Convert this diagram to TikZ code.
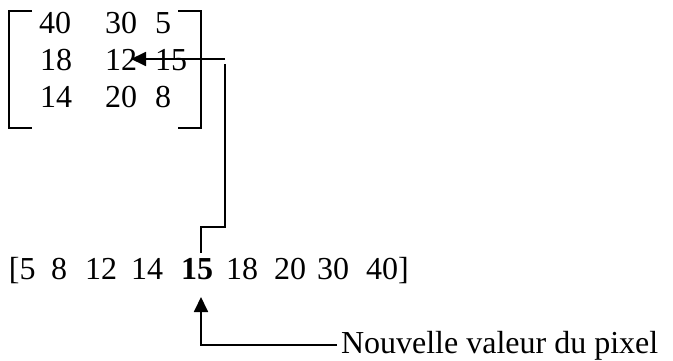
\documentclass[tikz,border=0pt]{standalone}
\usepackage{fontspec}
\setmainfont{Liberation Serif}
\usetikzlibrary{arrows.meta}
\begin{document}
\begin{tikzpicture}[x=1pt,y=-1pt,
  txt/.style={anchor=base west,inner sep=0pt,outer sep=0pt,font=\fontsize{32}{38}\selectfont},
  ln/.style={line width=1.8pt},
  arr/.style={ln,-{Triangle[length=15pt,width=14pt]}}]
\useasboundingbox (0,0) rectangle (673,361);
% brackets
\draw[ln] (32,11) -- (9,11) -- (9,128) -- (32,128);
\draw[ln] (178,11) -- (201,11) -- (201,128) -- (178,128);
% matrix entries
\node[txt] (m11) at (39,34) {40};
\node[txt] (m12) at (105,34) {30};
\node[txt] (m13) at (155,34) {5};
\node[txt] (m21) at (40,71) {18};
\node[txt] (m22) at (105,71) {12};
\node[txt] (m23) at (155,71) {15};
\node[txt] (m31) at (40,108) {14};
\node[txt] (m32) at (105,108) {20};
\node[txt] (m33) at (155,108) {8};
% sorted list
\node[txt] (b0) at (9,279) {[5};
\node[txt] (b1) at (51,279) {8};
\node[txt] (b2) at (85,279) {12};
\node[txt] (b3) at (131,279) {14};
\node[txt,font=\fontsize{32}{38}\selectfont\bfseries] (b4) at (181,279) {15};
\node[txt] (b5) at (226,279) {18};
\node[txt] (b6) at (274,279) {20};
\node[txt] (b7) at (317,279) {30};
\node[txt] (b8) at (366,279) {40]};
% label
\node[txt] (lab) at (341,353) {Nouvelle valeur du pixel};
% connectors
\coordinate (p1) at (225,59);
\coordinate (p2) at (131,59);
\draw[arr] (p1) -- (p2);
\coordinate (q1) at (201,253);
\coordinate (q2) at (201,227);
\coordinate (q3) at (225,227);
\coordinate (q4) at (225,64);
\draw[ln] (q1) -- (q2) -- (q3) -- (q4);
\coordinate (r1) at (337,345);
\coordinate (r2) at (201,345);
\coordinate (r3) at (201,297);
\draw[arr] (r1) -- (r2) -- (r3);
\end{tikzpicture}
\end{document}
